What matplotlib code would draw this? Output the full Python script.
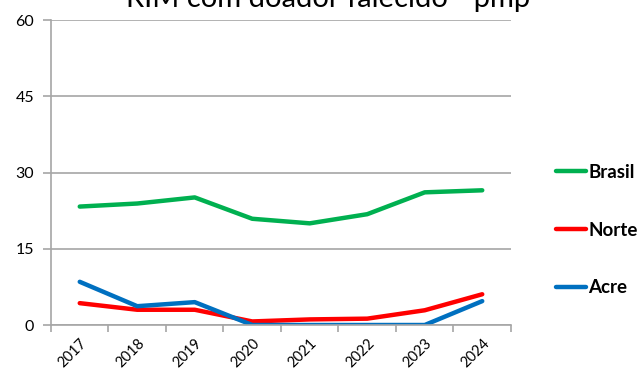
import matplotlib
matplotlib.use("Agg")
import matplotlib.pyplot as plt

plt.rcParams['font.family'] = ['Lato', 'DejaVu Sans']

anos = ['2017', '2018', '2019', '2020', '2021', '2022', '2023', '2024']
brasil = [23.3, 23.9, 25.1, 20.9, 20.0, 21.8, 26.1, 26.5]
norte = [4.3, 3.0, 3.0, 0.7, 1.1, 1.25, 2.9, 6.05]
acre = [8.5, 3.7, 4.5, 0.0, 0.0, 0.0, 0.0, 4.7]

fig = plt.figure(figsize=(6.43, 3.74), dpi=100)
ax = fig.add_axes([0.0793, 0.131, 0.7154, 0.8155])

x = list(range(len(anos)))
ax.plot(x, brasil, color='#00B050', lw=3.2, label='Brasil', solid_capstyle='round')
ax.plot(x, norte, color='#FF0000', lw=3.2, label='Norte', solid_capstyle='round')
ax.plot(x, acre, color='#0070C0', lw=3.2, label='Acre', solid_capstyle='round')

ax.set_xlim(-0.5, len(anos) - 0.5)
ax.set_ylim(0, 60)
ax.set_yticks([0, 15, 30, 45, 60])
ax.yaxis.grid(True, color='#A6A6A6', lw=1.2)
ax.set_axisbelow(True)

ax.set_xticks(x)
ax.set_xticklabels(anos, rotation=45, ha='right', rotation_mode='anchor')
ax.set_xticks([i - 0.5 for i in range(len(anos) + 1)], minor=True)
ax.tick_params(axis='x', which='major', length=0, pad=8, labelsize=10.5)
ax.tick_params(axis='x', which='minor', length=5, color='#A6A6A6', width=1.2)
ax.tick_params(axis='y', length=6, color='#A6A6A6', width=1.2, labelsize=11.5, pad=6)

for s in ['top', 'right']:
    ax.spines[s].set_visible(False)
for s in ['left', 'bottom']:
    ax.spines[s].set_color('#A6A6A6')
    ax.spines[s].set_linewidth(1.2)

leg = ax.legend(loc='center left', bbox_to_anchor=(0.839, 0.385), bbox_transform=fig.transFigure,
                frameon=False, handlelength=1.6, handletextpad=0.1, labelspacing=2.18,
                prop={'weight': 'bold', 'size': 13.5})

fig.text(0.51, 0.981, 'RIM com doador falecido - pmp', ha='center', va='baseline', fontsize=21)

fig.savefig('out.png', dpi=100)
